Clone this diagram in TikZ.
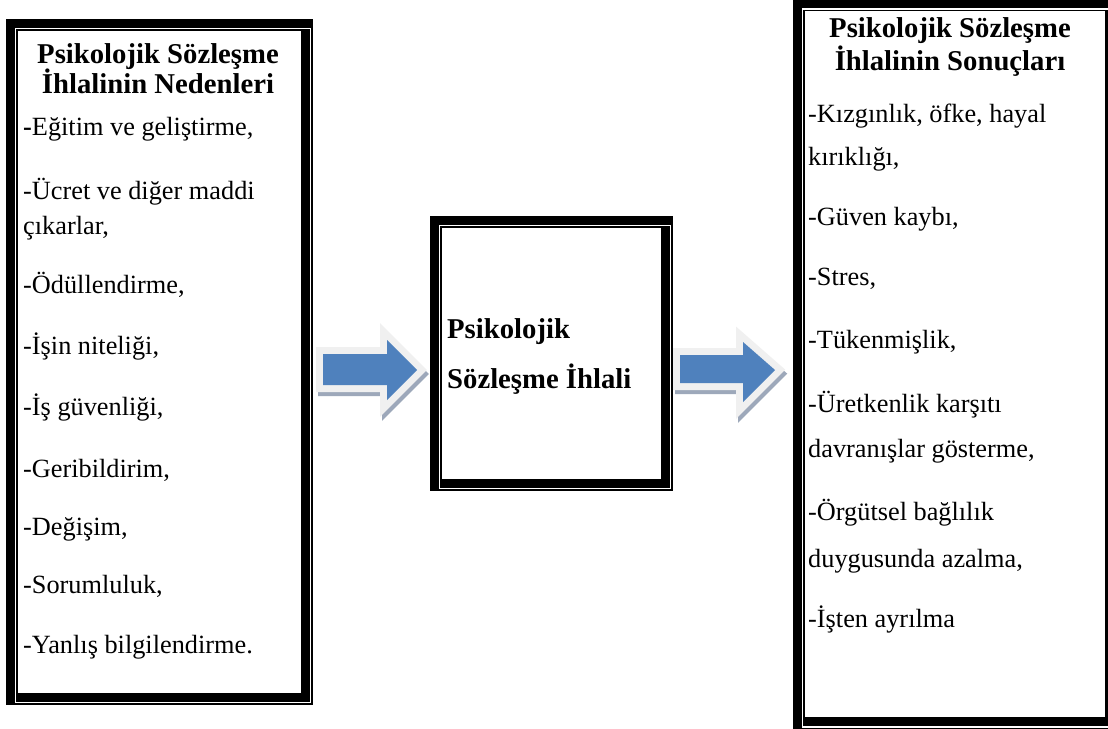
\documentclass[tikz,border=0pt]{standalone}
\usepackage{fontspec}
\setmainfont{Liberation Serif}
\definecolor{arrowblue}{HTML}{4F81BD}
\definecolor{arrowrim}{HTML}{F0F0F0}
\definecolor{arrowshade}{HTML}{9DA8BA}
\newcommand\dframe[4]{%
  \fill[black] (#1,#2) rectangle (#3,#4);
  \draw[white,line width=1.3] ({#1+9.4},{#2+9.4}) rectangle ({#3-2.6},{#4-2.6});
  \fill[white] ({#1+11.6},{#2+11.6}) rectangle ({#3-12.5},{#4-12.5});
}
\tikzset{
  body/.style={anchor=base west,inner sep=0,font=\fontsize{26.3}{30}\selectfont},
  ttl/.style={anchor=base,inner sep=0,font=\fontsize{28.7}{32}\selectfont\bfseries},
  mid/.style={anchor=base west,inner sep=0,font=\fontsize{28.7}{32}\selectfont\bfseries},
  blockarrow/.style={fill=arrowblue,draw=arrowrim,line width=14,line join=miter},
  arrowshadow/.style={fill=arrowshade,draw=arrowshade,line width=14,line join=miter}
}
\begin{document}
\begin{tikzpicture}[x=1pt,y=-1pt]
\useasboundingbox (0,0) rectangle (1108,728);
\fill[white] (0,0) rectangle (1108,728);
% frames
\dframe{6}{19}{313}{705}
\dframe{430}{216}{673}{491}
\dframe{793}{-0.5}{1117.5}{729.5}
% arrows
\begin{scope}[shift={(2,4)}]
\path[arrowshadow] (323,354) -- (387,354) -- (387,340) -- (417,370) -- (387,400) -- (387,385) -- (323,385) -- cycle;
\path[arrowshadow] (680,355) -- (743,355) -- (743,342) -- (775,370) -- (743,402) -- (743,383) -- (680,383) -- cycle;
\end{scope}
\path[blockarrow] (323,354) -- (387,354) -- (387,340) -- (417,370) -- (387,400) -- (387,385) -- (323,385) -- cycle;
\path[blockarrow] (680,355) -- (743,355) -- (743,342) -- (775,370) -- (743,402) -- (743,383) -- (680,383) -- cycle;
\fill[arrowblue] (323,354) -- (387,354) -- (387,340) -- (417,370) -- (387,400) -- (387,385) -- (323,385) -- cycle;
\fill[arrowblue] (680,355) -- (743,355) -- (743,342) -- (775,370) -- (743,402) -- (743,383) -- (680,383) -- cycle;
% left box text
\node[ttl] (lt1) at (158,63) {Psikolojik Sözleşme};
\node[ttl] (lt2) at (158,93) {İhlalinin Nedenleri};
\node[body] (l1) at (23,135) {\textbf{-}Eğitim ve geliştirme,};
\node[body] (l2) at (23,199) {-Ücret ve diğer maddi};
\node[body] (l2b) at (23,234) {çıkarlar,};
\node[body] (l3) at (23,293) {-Ödüllendirme,};
\node[body] (l4) at (23,354) {-İşin niteliği,};
\node[body] (l5) at (23,415) {-İş güvenliği,};
\node[body] (l6) at (23,477) {-Geribildirim,};
\node[body] (l7) at (23,535) {-Değişim,};
\node[body] (l8) at (23,593) {-Sorumluluk,};
\node[body] (l9) at (23,653) {-Yanlış bilgilendirme.};
% middle
\node[mid] (m1) at (447,338) {Psikolojik};
\node[mid] (m2) at (447,388) {Sözleşme İhlali};
% right box text
\node[ttl] (rt1) at (950,37) {Psikolojik Sözleşme};
\node[ttl] (rt2) at (950,70) {İhlalinin Sonuçları};
\node[body] (r1) at (808,122) {-Kızgınlık, öfke, hayal};
\node[body] (r1b) at (808,165) {kırıklığı,};
\node[body] (r2) at (808,225) {-Güven kaybı,};
\node[body] (r3) at (808,285) {-Stres,};
\node[body] (r4) at (808,348) {-Tükenmişlik,};
\node[body] (r5) at (808,412) {-Üretkenlik karşıtı};
\node[body] (r5b) at (808,457) {davranışlar gösterme,};
\node[body] (r6) at (808,520) {-Örgütsel bağlılık};
\node[body] (r6b) at (808,567) {duygusunda azalma,};
\node[body] (r7) at (808,627) {-İşten ayrılma};
\end{tikzpicture}
\end{document}
